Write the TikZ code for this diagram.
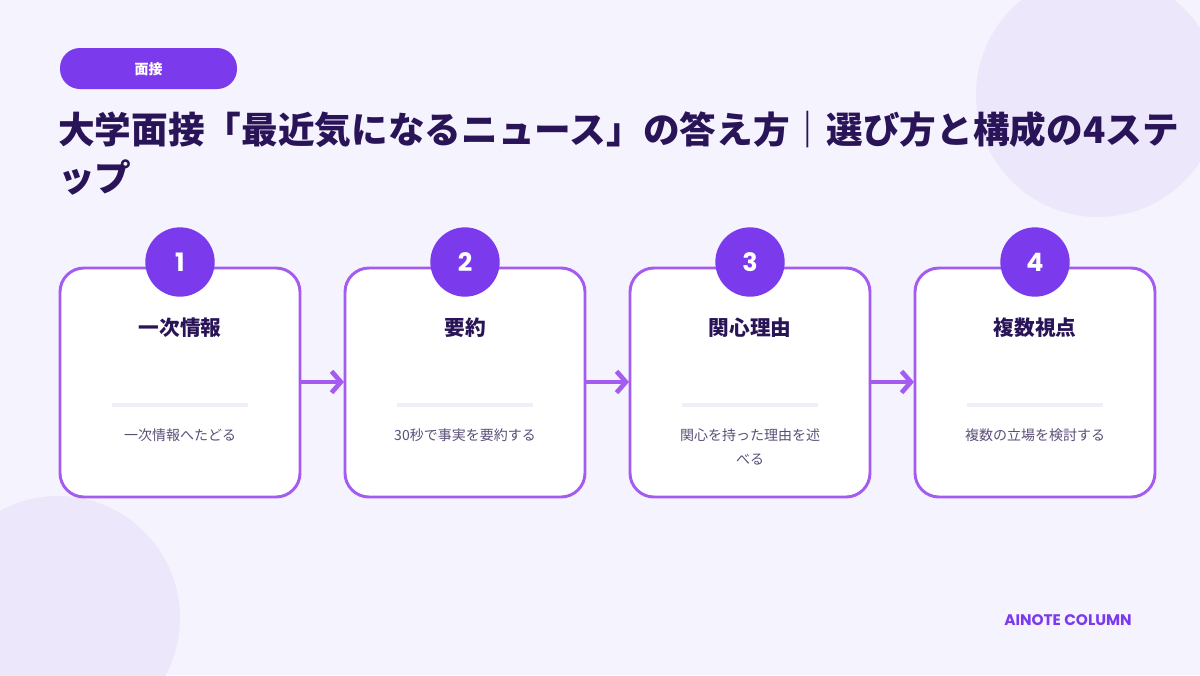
\documentclass[tikz,border=0pt]{standalone}
\usepackage{fontspec}
\setmainfont{Noto Sans CJK JP}[BoldFont={* Black}]
\newfontfamily\latin{Poppins}[BoldFont={* Bold}]
\usetikzlibrary{arrows.meta}
\definecolor{pagebg}{HTML}{F5F3FE}
\definecolor{blob}{HTML}{EDE7FB}
\definecolor{violet}{HTML}{7C3AED}
\definecolor{lilac}{HTML}{A45BF0}
\definecolor{ink}{HTML}{2A1458}
\definecolor{muted}{HTML}{5B4F78}
\definecolor{rule}{HTML}{F1EEFA}
\tikzset{
  card/.style = {draw=lilac, line width=2.2pt, fill=white, rounded corners=18pt},
  badge/.style = {circle, fill=violet, minimum size=52pt, text=white,
                  font=\latin\fontsize{19}{19}\selectfont\bfseries},
  steptitle/.style = {text=ink, font=\fontsize{15.5}{15.5}\selectfont\bfseries},
  stepnote/.style = {text=muted, font=\fontsize{10.5}{18}\selectfont,
                     text width=150pt, align=center, letter space=0},
  flow/.style = {-{Straight Barb[length=7pt,width=16pt,line width=3.5pt]},
                 draw=lilac, line width=3.5pt}
}
\tikzset{letter space/.code={}}
\begin{document}
\begin{tikzpicture}[x=0.75pt, y=-0.75pt]

        % Background and corner blobs.
        \useasboundingbox (0,0) rectangle (1200,675);
        \fill[pagebg] (0,0) rectangle (1200,675);
        \fill[blob] (1098,95) circle (122);
        \fill[blob] (58,618) circle (122);

        % Category pill and headline.
        \fill[violet, rounded corners=15pt] (60,48) rectangle (237,89);
        \node[text=white, font=\fontsize{10.5}{10.5}\selectfont\bfseries] (tag) at (148.5,69) {面接};
        \node[anchor=west, inner sep=0pt, text=ink, font=\fontsize{27.5}{27.5}\selectfont\bfseries]
            (head1) at (58,130) {大学面接「最近気になるニュース」の答え方｜選び方と構成の4ステ};
        \node[anchor=west, inner sep=0pt, text=ink, font=\fontsize{27.5}{27.5}\selectfont\bfseries]
            (head2) at (58,178) {ップ};

        % One card per step.
        \foreach[count=\i, evaluate = {\cx = 180 + 285*(\i-1)}]
            \name/\note in {一次情報/一次情報へたどる, 要約/30秒で事実を要約する,
                           関心理由/関心を持った理由を述\\べる, 複数視点/複数の立場を検討する}{
            \draw[card] (\cx-120,268) rectangle (\cx+120,497);
            \coordinate (card\i-w) at (\cx-121,382);
            \coordinate (card\i-e) at (\cx+121,382);
            \node[badge] (num\i) at (\cx,262) {\i};
            \node[steptitle] (title\i) at (\cx,328) {\name};
            \draw[rule, line width=3pt] (\cx-68,405) -- (\cx+68,405);
            \node[stepnote, anchor=north] (note\i) at (\cx,424) {\note};
        }

        % Arrows between cards.
        \foreach \i [evaluate = {\j = int(\i + 1)}] in {1, 2, 3}{
            \draw[flow] (card\i-e) -- (card\j-w);
        }

        % Footer mark.
        \node[text=violet, font=\latin\fontsize{11.5}{11.5}\selectfont\bfseries] (brand) at (1068,620) {AINOTE COLUMN};
    \end{tikzpicture}
\end{document}
